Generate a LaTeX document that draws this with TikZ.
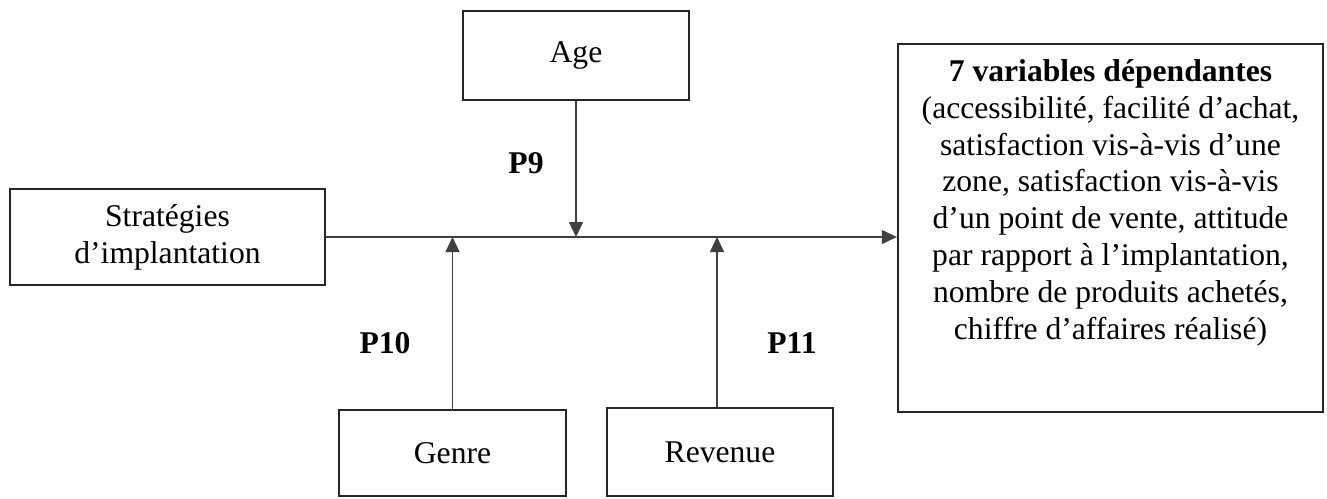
\documentclass[tikz,border=0pt]{standalone}
\usepackage{fontspec}
\setmainfont{Liberation Serif}
\usetikzlibrary{arrows.meta,positioning}
\tikzset{
  box/.style={draw=black!85, line width=1.4pt, inner sep=0pt, align=center,
    font=\fontsize{18}{21}\selectfont},
  link/.style={draw=black!75, line width=0.7pt, -{Triangle[length=0.3cm,width=0.28cm]}},
  plabel/.style={font=\fontsize{18}{21}\selectfont\bfseries}
}
\begin{document}
\begin{tikzpicture}[x=0.02cm,y=-0.02cm]
    \useasboundingbox (0,0) rectangle (1327,498);
    % boxes
    \node[box, minimum width=4.52cm, minimum height=1.78cm] (age) at (576,55.5) {Age};
    \node[box, minimum width=6.30cm, minimum height=1.92cm] (strat) at (167.5,237) {Stratégies\\d’implantation};
    \node[box, minimum width=8.50cm, minimum height=7.36cm] (dep) at (1110.5,228) {};
    \node[box, draw=none, anchor=north] (deptext) at (1110.5,58)
      {\textbf{7 variables dépendantes}\\(accessibilité, facilité d’achat,\\satisfaction vis-à-vis d’une\\zone, satisfaction vis-à-vis\\d’un point de vente, attitude\\par rapport à l’implantation,\\nombre de produits achetés,\\chiffre d’affaires réalisé)};
    \node[box, minimum width=4.54cm, minimum height=1.72cm] (genre) at (452.5,453) {Genre};
    \node[box, minimum width=4.52cm, minimum height=1.76cm] (revenue) at (720,452) {Revenue};
    % main effect
    \coordinate (target) at (dep.west |- strat.east);
    \draw[link] (strat.east) -- (target);
    % moderators
    \draw[link] (age.south) -- (age.south |- strat.east);
    \draw[link] (genre.north) -- (genre.north |- strat.east);
    \draw[link] (revenue.north -| 717,0) -- (717,237);
    \node[plabel] (p9) at (526,163) {P9};
    \node[plabel] (p10) at (385,343) {P10};
    \node[plabel] (p11) at (792,343) {P11};
\end{tikzpicture}
\end{document}
